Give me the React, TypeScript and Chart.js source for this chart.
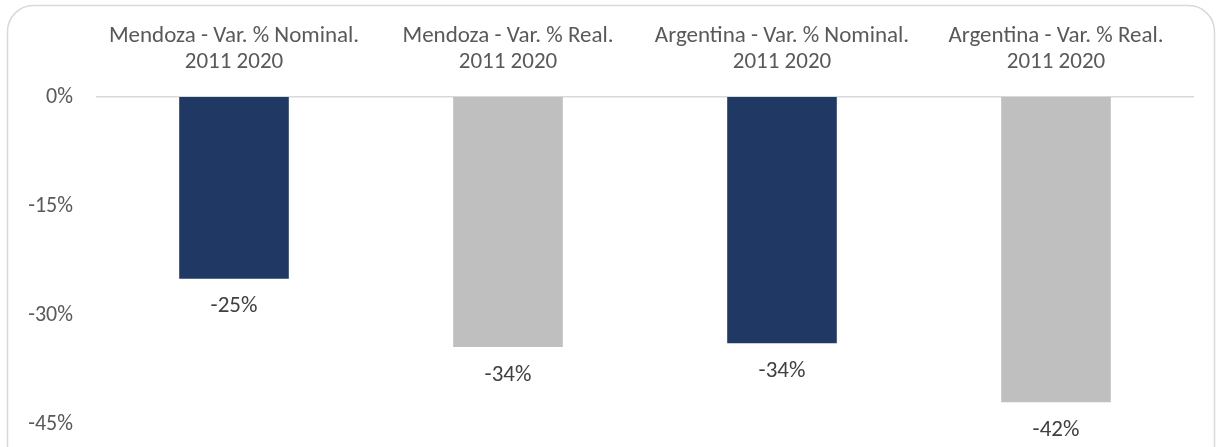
import React, { useEffect, useRef } from "react";
import { Chart, registerables } from "chart.js";

Chart.register(...registerables);

const categories: string[][] = [
  ["Mendoza - Var. % Nominal.", "2011 2020"],
  ["Mendoza - Var. % Real.", "2011 2020"],
  ["Argentina - Var. % Nominal.", "2011 2020"],
  ["Argentina - Var. % Real.", "2011 2020"],
];
const values: number[] = [-25, -34.4, -33.9, -42];
const valueLabels: string[] = ["-25%", "-34%", "-34%", "-42%"];
const barColors: string[] = ["#203864", "#BFBFBF", "#203864", "#BFBFBF"];
const yTicks: number[] = [0, -15, -30, -45];

const FONT = "Carlito, Lato, sans-serif";

const frame = {
  id: "frame",
  beforeDraw(chart: any) {
    const ctx = chart.ctx;
    ctx.save();
    ctx.strokeStyle = "#D9D9D9";
    ctx.lineWidth = 1.5;
    const x = 7.5, y = 5.5, w = 1207, h = 470, r = 26;
    ctx.beginPath();
    ctx.moveTo(x + r, y);
    ctx.lineTo(x + w - r, y);
    ctx.arcTo(x + w, y, x + w, y + r, r);
    ctx.lineTo(x + w, y + h - r);
    ctx.arcTo(x + w, y + h, x + w - r, y + h, r);
    ctx.lineTo(x + r, y + h);
    ctx.arcTo(x, y + h, x, y + h - r, r);
    ctx.lineTo(x, y + r);
    ctx.arcTo(x, y, x + r, y, r);
    ctx.stroke();
    ctx.restore();
  },
};

const dataLabels = {
  id: "dataLabels",
  afterDatasetsDraw(chart: any) {
    const ctx = chart.ctx;
    const meta = chart.getDatasetMeta(0);
    ctx.save();
    ctx.fillStyle = "#404040";
    ctx.font = `23px ${FONT}`;
    ctx.textAlign = "center";
    ctx.textBaseline = "middle";
    meta.data.forEach((bar: any, i: number) => {
      ctx.fillText(valueLabels[i], bar.x, bar.y + 28);
    });
    ctx.restore();
  },
};

export default function App() {
  const ref = useRef<HTMLCanvasElement>(null);
  useEffect(() => {
    document.body.style.margin = "0";
    const chart = new Chart(ref.current!, {
      type: "bar",
      data: {
        labels: categories,
        datasets: [
          {
            data: values,
            backgroundColor: barColors,
            borderWidth: 0,
            categoryPercentage: 1,
            barPercentage: 0.4,
          },
        ],
      },
      options: {
        animation: false,
        responsive: false,
        maintainAspectRatio: false,
        layout: { padding: { left: 0, right: 25, top: 0, bottom: 23 } },
        plugins: {
          legend: { display: false },
          tooltip: { enabled: false },
        },
        scales: {
          x: {
            position: "top",
            grid: { display: false, drawTicks: false },
            border: { display: true, color: "#D9D9D9", width: 1.5 },
            ticks: {
              color: "#595959",
              font: { family: FONT, size: 23, lineHeight: 1.13 },
              padding: 22,
              maxRotation: 0,
              autoSkip: false,
            },
            afterFit(scale: any) {
              scale.height = 97;
              scale.paddingLeft = 0;
              scale.paddingRight = 0;
            },
          },
          y: {
            min: -45,
            max: 0,
            grid: { display: false, drawTicks: false },
            border: { display: false },
            afterBuildTicks(scale: any) {
              scale.ticks = yTicks.map((v) => ({ value: v }));
            },
            ticks: {
              color: "#595959",
              font: { family: FONT, size: 22 },
              padding: 24,
              callback: (v: any) => `${v}%`,
            },
            afterFit(scale: any) {
              scale.width = 97;
              scale.paddingTop = 0;
              scale.paddingBottom = 0;
            },
          },
        },
      },
      plugins: [frame, dataLabels],
    });
    return () => chart.destroy();
  }, []);
  return (
    <div style={{ width: 1218, height: 447 }}>
      <canvas ref={ref} width={1218} height={447} style={{ display: "block" }} />
    </div>
  );
}
